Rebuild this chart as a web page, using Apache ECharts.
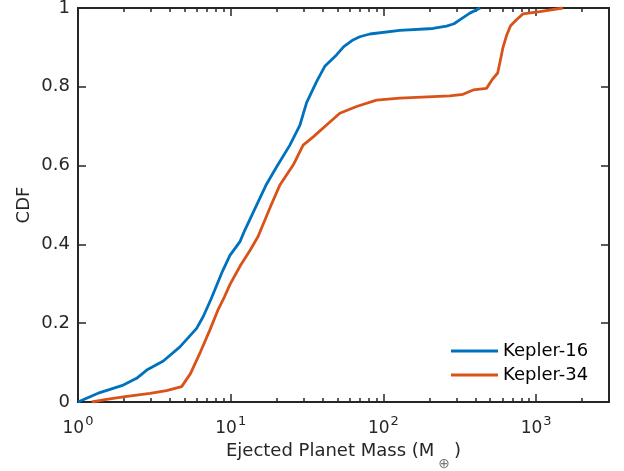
<!DOCTYPE html>
<html>
<head>
<meta charset="utf-8">
<script src="https://cdn.jsdelivr.net/npm/echarts@6/dist/echarts.min.js"></script>
<style>
  html, body { margin: 0; padding: 0; background: #fff; }
  #cdf { width: 624px; height: 471px; }
</style>
</head>
<body>
<div id="cdf"></div>
<script>
// values
var k16Mass = [1.0, 1.39, 1.98, 2.42, 2.82, 3.62, 4.65, 5.98, 6.61, 7.45, 8.72, 9.88, 11.5, 12.4, 15.2, 17, 20, 24.4, 28.4, 31.4, 36.5, 41.3, 49.3, 55, 63.2, 70, 81.5, 128, 211, 259, 290, 316, 368, 430];
var k16Cdf  = [0, 0.024, 0.043, 0.060, 0.081, 0.104, 0.140, 0.187, 0.217, 0.262, 0.327, 0.372, 0.407, 0.437, 0.510, 0.550, 0.597, 0.652, 0.703, 0.760, 0.813, 0.852, 0.881, 0.902, 0.919, 0.927, 0.934, 0.943, 0.948, 0.954, 0.960, 0.970, 0.987, 1.0];

var k34Mass = [1.23, 1.5, 1.98, 2.96, 3.8, 4.77, 5.45, 6.35, 7.31, 8.3, 9.1, 9.88, 11.6, 13.4, 15.1, 18.4, 21, 25.7, 29.8, 34.7, 42.4, 51.8, 66.7, 90.1, 128, 272, 332, 387, 473, 515, 560, 585, 605, 640, 680, 743, 821, 1056, 1500];
var k34Cdf  = [0, 0.006, 0.013, 0.022, 0.029, 0.039, 0.072, 0.128, 0.183, 0.236, 0.267, 0.298, 0.347, 0.385, 0.420, 0.500, 0.551, 0.602, 0.652, 0.673, 0.703, 0.733, 0.750, 0.766, 0.771, 0.777, 0.781, 0.792, 0.796, 0.818, 0.835, 0.870, 0.898, 0.930, 0.955, 0.970, 0.985, 0.991, 1.0];

var majorTicks = [1, 10, 100, 1000];
var minorTicks = [2, 3, 4, 5, 6, 7, 8, 9, 20, 30, 40, 50, 60, 70, 80, 90, 200, 300, 400, 500, 600, 700, 800, 900, 2000];

var ink = '#262626';
var font = 'DejaVu Sans';

function pairs(xs, ys) {
  return xs.map(function (x, i) { return [x, ys[i]]; });
}

function xAx(pos, ticks, len, withLabels) {
  var ax = {
    type: 'log', logBase: 10, min: 1, max: 3000, position: pos,
    axisLine: { show: true, onZero: false, lineStyle: { color: ink, width: 2 } },
    axisTick: { show: true, inside: true, length: len, customValues: ticks, lineStyle: { color: ink, width: 1.5 } },
    axisLabel: { show: false },
    splitLine: { show: false }
  };
  if (withLabels) {
    ax.axisLabel = {
      show: true, customValues: majorTicks, margin: 10,
      formatter: function (v) { return '{b|10}{s|' + Math.round(Math.log10(v)) + '}'; },
      rich: {
        b: { fontFamily: font, fontSize: 17, color: ink, padding: [8, 0, 0, 0] },
        s: { fontFamily: font, fontSize: 13, color: ink, padding: [0, 0, 6, 1] }
      }
    };
    ax.name = 'Ejected Planet Mass (M{sub|⊕})';
    ax.nameLocation = 'middle';
    ax.nameGap = 28;
    ax.nameTextStyle = {
      fontFamily: font, fontSize: 18, color: ink,
      rich: { sub: { fontFamily: font, fontSize: 14, color: '#777', padding: [26, 4, 0, 4] } }
    };
  }
  return ax;
}

function yAx(pos, withLabels) {
  return {
    type: 'value', min: 0, max: 1, interval: 0.2, position: pos,
    axisLine: { show: true, onZero: false, lineStyle: { color: ink, width: 2 } },
    axisTick: { show: true, inside: true, length: 8, lineStyle: { color: ink, width: 1.5 } },
    axisLabel: { show: withLabels, margin: 8, fontFamily: font, fontSize: 18, color: ink },
    splitLine: { show: false },
    name: withLabels ? 'CDF' : '',
    nameLocation: 'middle',
    nameGap: 45,
    nameMoveOverlap: false,
    nameTextStyle: { fontFamily: font, fontSize: 18, color: ink }
  };
}

var chart = echarts.init(document.getElementById('cdf'));
chart.setOption({
  animation: false,
  grid: { left: 78, right: 15, top: 8, bottom: 69, containLabel: false, outerBoundsMode: 'none' },
  legend: {
    orient: 'vertical', left: 446, top: 337, itemGap: 6,
    icon: 'rect', itemWidth: 47, itemHeight: 3,
    textStyle: { fontFamily: font, fontSize: 18, color: '#000' },
    data: ['Kepler-16', 'Kepler-34']
  },
  xAxis: [
    xAx('bottom', majorTicks, 8, true),
    xAx('bottom', minorTicks, 4, false),
    xAx('top', majorTicks, 8, false),
    xAx('top', minorTicks, 4, false)
  ],
  yAxis: [yAx('left', true), yAx('right', false)],
  series: [
    {
      name: 'Kepler-16', type: 'line', symbol: 'none',
      data: pairs(k16Mass, k16Cdf),
      itemStyle: { color: '#0072BD' },
      lineStyle: { color: '#0072BD', width: 2.8 }
    },
    {
      name: 'Kepler-34', type: 'line', symbol: 'none',
      data: pairs(k34Mass, k34Cdf),
      itemStyle: { color: '#D95319' },
      lineStyle: { color: '#D95319', width: 2.8 }
    }
  ]
});
</script>
</body>
</html>
